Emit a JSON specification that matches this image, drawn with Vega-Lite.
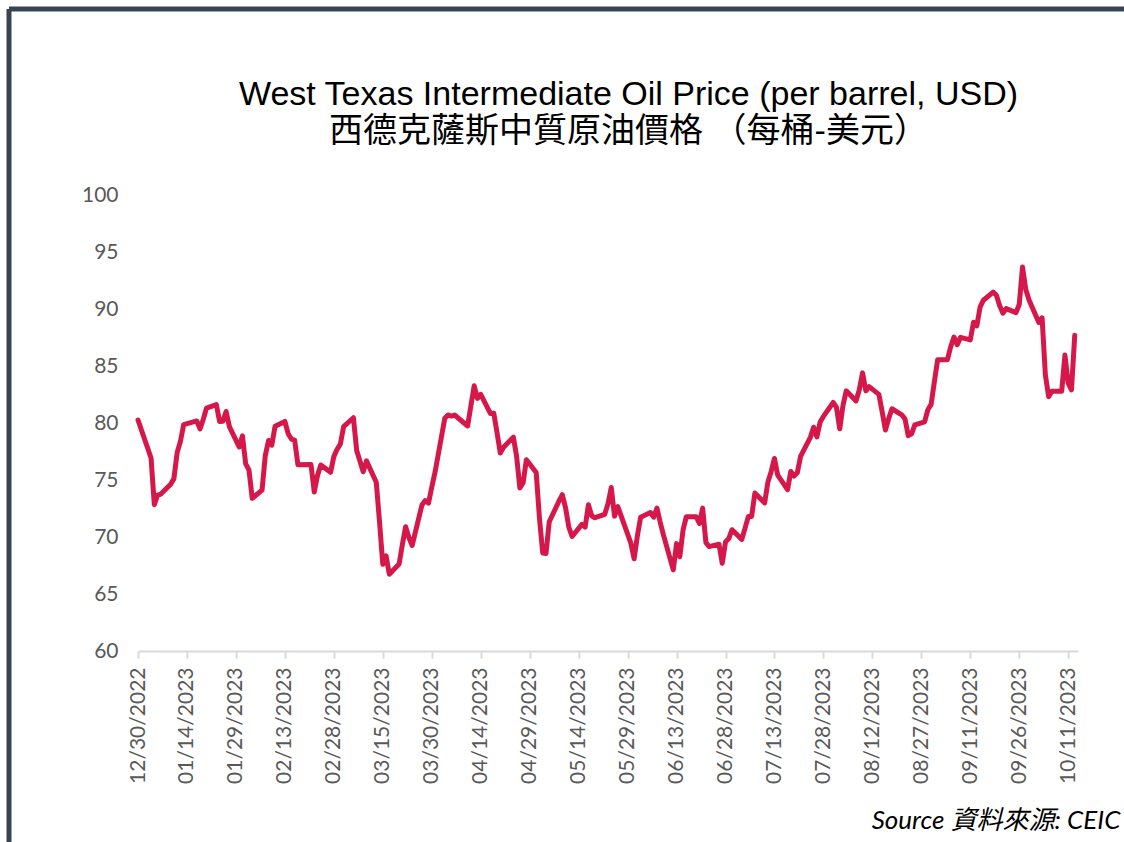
{
  "$schema": "https://vega.github.io/schema/vega-lite/v6.json",
  "width": 1115,
  "height": 833,
  "autosize": {"type": "none"},
  "padding": {"left": 9, "top": 9, "right": 0, "bottom": 0},
  "background": "white",
  "config": {
    "view": {"stroke": "#384452", "strokeWidth": 5, "strokeDash": [1115, 1948, 833, 0]}
  },
  "title": {
    "text": ["West Texas Intermediate Oil Price (per barrel, USD)", "西德克薩斯中質原油價格 （每桶-美元）"],
    "font": "Liberation Sans, Noto Sans CJK TC",
    "fontSize": 34,
    "fontWeight": "normal",
    "color": "#000000",
    "anchor": "middle",
    "frame": "group",
    "baseline": "top",
    "lineHeight": 37,
    "offset": -140,
    "dx": 62
  },
  "data": {
    "values": [
      {"date": "2022-12-30", "price": 80.26},
      {"date": "2023-01-03", "price": 76.93},
      {"date": "2023-01-04", "price": 72.84},
      {"date": "2023-01-05", "price": 73.67},
      {"date": "2023-01-06", "price": 73.77},
      {"date": "2023-01-09", "price": 74.63},
      {"date": "2023-01-10", "price": 75.12},
      {"date": "2023-01-11", "price": 77.41},
      {"date": "2023-01-12", "price": 78.39},
      {"date": "2023-01-13", "price": 79.86},
      {"date": "2023-01-17", "price": 80.18},
      {"date": "2023-01-18", "price": 79.48},
      {"date": "2023-01-19", "price": 80.33},
      {"date": "2023-01-20", "price": 81.31},
      {"date": "2023-01-23", "price": 81.62},
      {"date": "2023-01-24", "price": 80.13},
      {"date": "2023-01-25", "price": 80.15},
      {"date": "2023-01-26", "price": 81.01},
      {"date": "2023-01-27", "price": 79.68},
      {"date": "2023-01-30", "price": 77.90},
      {"date": "2023-01-31", "price": 78.87},
      {"date": "2023-02-01", "price": 76.41},
      {"date": "2023-02-02", "price": 75.88},
      {"date": "2023-02-03", "price": 73.39},
      {"date": "2023-02-06", "price": 74.11},
      {"date": "2023-02-07", "price": 77.14},
      {"date": "2023-02-08", "price": 78.47},
      {"date": "2023-02-09", "price": 78.06},
      {"date": "2023-02-10", "price": 79.72},
      {"date": "2023-02-13", "price": 80.14},
      {"date": "2023-02-14", "price": 79.06},
      {"date": "2023-02-15", "price": 78.59},
      {"date": "2023-02-16", "price": 78.49},
      {"date": "2023-02-17", "price": 76.34},
      {"date": "2023-02-21", "price": 76.36},
      {"date": "2023-02-22", "price": 73.95},
      {"date": "2023-02-23", "price": 75.39},
      {"date": "2023-02-24", "price": 76.32},
      {"date": "2023-02-27", "price": 75.68},
      {"date": "2023-02-28", "price": 77.05},
      {"date": "2023-03-01", "price": 77.69},
      {"date": "2023-03-02", "price": 78.16},
      {"date": "2023-03-03", "price": 79.68},
      {"date": "2023-03-06", "price": 80.46},
      {"date": "2023-03-07", "price": 77.58},
      {"date": "2023-03-08", "price": 76.66},
      {"date": "2023-03-09", "price": 75.72},
      {"date": "2023-03-10", "price": 76.68},
      {"date": "2023-03-13", "price": 74.80},
      {"date": "2023-03-14", "price": 71.33},
      {"date": "2023-03-15", "price": 67.61},
      {"date": "2023-03-16", "price": 68.35},
      {"date": "2023-03-17", "price": 66.74},
      {"date": "2023-03-20", "price": 67.64},
      {"date": "2023-03-21", "price": 69.33},
      {"date": "2023-03-22", "price": 70.90},
      {"date": "2023-03-23", "price": 69.96},
      {"date": "2023-03-24", "price": 69.26},
      {"date": "2023-03-27", "price": 72.81},
      {"date": "2023-03-28", "price": 73.20},
      {"date": "2023-03-29", "price": 72.97},
      {"date": "2023-03-30", "price": 74.37},
      {"date": "2023-03-31", "price": 75.67},
      {"date": "2023-04-03", "price": 80.42},
      {"date": "2023-04-04", "price": 80.71},
      {"date": "2023-04-05", "price": 80.61},
      {"date": "2023-04-06", "price": 80.70},
      {"date": "2023-04-10", "price": 79.74},
      {"date": "2023-04-11", "price": 81.53},
      {"date": "2023-04-12", "price": 83.26},
      {"date": "2023-04-13", "price": 82.16},
      {"date": "2023-04-14", "price": 82.52},
      {"date": "2023-04-17", "price": 80.83},
      {"date": "2023-04-18", "price": 80.86},
      {"date": "2023-04-19", "price": 79.16},
      {"date": "2023-04-20", "price": 77.37},
      {"date": "2023-04-21", "price": 77.87},
      {"date": "2023-04-24", "price": 78.76},
      {"date": "2023-04-25", "price": 77.07},
      {"date": "2023-04-26", "price": 74.30},
      {"date": "2023-04-27", "price": 74.76},
      {"date": "2023-04-28", "price": 76.78},
      {"date": "2023-05-01", "price": 75.66},
      {"date": "2023-05-02", "price": 71.66},
      {"date": "2023-05-03", "price": 68.60},
      {"date": "2023-05-04", "price": 68.56},
      {"date": "2023-05-05", "price": 71.34},
      {"date": "2023-05-08", "price": 73.16},
      {"date": "2023-05-09", "price": 73.71},
      {"date": "2023-05-10", "price": 72.56},
      {"date": "2023-05-11", "price": 70.87},
      {"date": "2023-05-12", "price": 70.04},
      {"date": "2023-05-15", "price": 71.11},
      {"date": "2023-05-16", "price": 70.86},
      {"date": "2023-05-17", "price": 72.83},
      {"date": "2023-05-18", "price": 71.86},
      {"date": "2023-05-19", "price": 71.69},
      {"date": "2023-05-22", "price": 71.99},
      {"date": "2023-05-23", "price": 72.91},
      {"date": "2023-05-24", "price": 74.34},
      {"date": "2023-05-25", "price": 71.83},
      {"date": "2023-05-26", "price": 72.67},
      {"date": "2023-05-30", "price": 69.46},
      {"date": "2023-05-31", "price": 68.09},
      {"date": "2023-06-01", "price": 70.10},
      {"date": "2023-06-02", "price": 71.74},
      {"date": "2023-06-05", "price": 72.15},
      {"date": "2023-06-06", "price": 71.74},
      {"date": "2023-06-07", "price": 72.53},
      {"date": "2023-06-08", "price": 71.29},
      {"date": "2023-06-09", "price": 70.17},
      {"date": "2023-06-12", "price": 67.12},
      {"date": "2023-06-13", "price": 69.42},
      {"date": "2023-06-14", "price": 68.27},
      {"date": "2023-06-15", "price": 70.62},
      {"date": "2023-06-16", "price": 71.78},
      {"date": "2023-06-19", "price": 71.78},
      {"date": "2023-06-20", "price": 71.19},
      {"date": "2023-06-21", "price": 72.53},
      {"date": "2023-06-22", "price": 69.51},
      {"date": "2023-06-23", "price": 69.16},
      {"date": "2023-06-26", "price": 69.37},
      {"date": "2023-06-27", "price": 67.70},
      {"date": "2023-06-28", "price": 69.56},
      {"date": "2023-06-29", "price": 69.86},
      {"date": "2023-06-30", "price": 70.64},
      {"date": "2023-07-03", "price": 69.79},
      {"date": "2023-07-05", "price": 71.79},
      {"date": "2023-07-06", "price": 71.80},
      {"date": "2023-07-07", "price": 73.86},
      {"date": "2023-07-10", "price": 72.99},
      {"date": "2023-07-11", "price": 74.83},
      {"date": "2023-07-12", "price": 75.75},
      {"date": "2023-07-13", "price": 76.89},
      {"date": "2023-07-14", "price": 75.42},
      {"date": "2023-07-17", "price": 74.15},
      {"date": "2023-07-18", "price": 75.75},
      {"date": "2023-07-19", "price": 75.35},
      {"date": "2023-07-20", "price": 75.63},
      {"date": "2023-07-21", "price": 77.07},
      {"date": "2023-07-24", "price": 78.74},
      {"date": "2023-07-25", "price": 79.63},
      {"date": "2023-07-26", "price": 78.78},
      {"date": "2023-07-27", "price": 80.09},
      {"date": "2023-07-28", "price": 80.58},
      {"date": "2023-07-31", "price": 81.80},
      {"date": "2023-08-01", "price": 81.37},
      {"date": "2023-08-02", "price": 79.49},
      {"date": "2023-08-03", "price": 81.55},
      {"date": "2023-08-04", "price": 82.82},
      {"date": "2023-08-07", "price": 81.94},
      {"date": "2023-08-08", "price": 82.92},
      {"date": "2023-08-09", "price": 84.40},
      {"date": "2023-08-10", "price": 82.82},
      {"date": "2023-08-11", "price": 83.19},
      {"date": "2023-08-14", "price": 82.51},
      {"date": "2023-08-15", "price": 80.99},
      {"date": "2023-08-16", "price": 79.38},
      {"date": "2023-08-17", "price": 80.39},
      {"date": "2023-08-18", "price": 81.25},
      {"date": "2023-08-21", "price": 80.72},
      {"date": "2023-08-22", "price": 80.35},
      {"date": "2023-08-23", "price": 78.89},
      {"date": "2023-08-24", "price": 79.05},
      {"date": "2023-08-25", "price": 79.83},
      {"date": "2023-08-28", "price": 80.10},
      {"date": "2023-08-29", "price": 81.16},
      {"date": "2023-08-30", "price": 81.63},
      {"date": "2023-08-31", "price": 83.63},
      {"date": "2023-09-01", "price": 85.55},
      {"date": "2023-09-04", "price": 85.55},
      {"date": "2023-09-05", "price": 86.69},
      {"date": "2023-09-06", "price": 87.54},
      {"date": "2023-09-07", "price": 86.87},
      {"date": "2023-09-08", "price": 87.51},
      {"date": "2023-09-11", "price": 87.29},
      {"date": "2023-09-12", "price": 88.84},
      {"date": "2023-09-13", "price": 88.52},
      {"date": "2023-09-14", "price": 90.16},
      {"date": "2023-09-15", "price": 90.77},
      {"date": "2023-09-18", "price": 91.48},
      {"date": "2023-09-19", "price": 91.20},
      {"date": "2023-09-20", "price": 90.28},
      {"date": "2023-09-21", "price": 89.63},
      {"date": "2023-09-22", "price": 90.03},
      {"date": "2023-09-25", "price": 89.68},
      {"date": "2023-09-26", "price": 90.39},
      {"date": "2023-09-27", "price": 93.68},
      {"date": "2023-09-28", "price": 91.71},
      {"date": "2023-09-29", "price": 90.79},
      {"date": "2023-10-02", "price": 88.82},
      {"date": "2023-10-03", "price": 89.23},
      {"date": "2023-10-04", "price": 84.22},
      {"date": "2023-10-05", "price": 82.31},
      {"date": "2023-10-06", "price": 82.79},
      {"date": "2023-10-09", "price": 82.79},
      {"date": "2023-10-10", "price": 85.97},
      {"date": "2023-10-11", "price": 83.49},
      {"date": "2023-10-12", "price": 82.91},
      {"date": "2023-10-13", "price": 87.69}
    ]
  },
  "mark": {"type": "line", "color": "#D6174A", "strokeWidth": 5, "strokeJoin": "round", "strokeCap": "round"},
  "encoding": {
    "x": {
      "field": "date",
      "type": "temporal",
      "scale": {
        "type": "utc",
        "domain": [{"year": 2022, "month": 12, "date": 30, "utc": true}, {"year": 2023, "month": 10, "date": 14, "utc": true}],
        "range": [129, 1069],
        "nice": false
      },
      "axis": {
        "values": [
          {"year": 2022, "month": 12, "date": 30, "utc": true},
          {"year": 2023, "month": 1, "date": 14, "utc": true},
          {"year": 2023, "month": 1, "date": 29, "utc": true},
          {"year": 2023, "month": 2, "date": 13, "utc": true},
          {"year": 2023, "month": 2, "date": 28, "utc": true},
          {"year": 2023, "month": 3, "date": 15, "utc": true},
          {"year": 2023, "month": 3, "date": 30, "utc": true},
          {"year": 2023, "month": 4, "date": 14, "utc": true},
          {"year": 2023, "month": 4, "date": 29, "utc": true},
          {"year": 2023, "month": 5, "date": 14, "utc": true},
          {"year": 2023, "month": 5, "date": 29, "utc": true},
          {"year": 2023, "month": 6, "date": 13, "utc": true},
          {"year": 2023, "month": 6, "date": 28, "utc": true},
          {"year": 2023, "month": 7, "date": 13, "utc": true},
          {"year": 2023, "month": 7, "date": 28, "utc": true},
          {"year": 2023, "month": 8, "date": 12, "utc": true},
          {"year": 2023, "month": 8, "date": 27, "utc": true},
          {"year": 2023, "month": 9, "date": 11, "utc": true},
          {"year": 2023, "month": 9, "date": 26, "utc": true},
          {"year": 2023, "month": 10, "date": 11, "utc": true}
        ],
        "format": "%m/%d/%Y",
        "offset": -191,
        "grid": false,
        "domainColor": "#d9d9d9",
        "domainWidth": 2,
        "tickColor": "#d9d9d9",
        "tickWidth": 2,
        "tickSize": 7,
        "labelAngle": 270,
        "labelAlign": "right",
        "labelBaseline": "middle",
        "labelPadding": 9,
        "labelFont": "Lato",
        "labelFontSize": 21,
        "labelColor": "#595959",
        "labelOverlap": false,
        "labelBound": false,
        "labelFlush": false,
        "title": "Source 資料來源: CEIC",
        "titleFont": "Lato, Noto Sans CJK TC",
        "titleFontStyle": "italic",
        "titleFontWeight": "normal",
        "titleFontSize": 26,
        "titleColor": "#000000",
        "titleAlign": "right",
        "titleAnchor": null,
        "titleBaseline": "alphabetic",
        "titleX": 1111,
        "titleY": 177
      }
    },
    "y": {
      "field": "price",
      "type": "quantitative",
      "scale": {"domain": [60, 100], "range": [642, 186], "nice": false, "zero": false},
      "axis": {
        "values": [60, 65, 70, 75, 80, 85, 90, 95, 100],
        "offset": -129,
        "domain": false,
        "ticks": false,
        "grid": false,
        "labelPadding": 20,
        "labelFont": "Lato",
        "labelFontSize": 21,
        "labelColor": "#595959",
        "labelBaseline": "middle",
        "title": null
      }
    }
  }
}
